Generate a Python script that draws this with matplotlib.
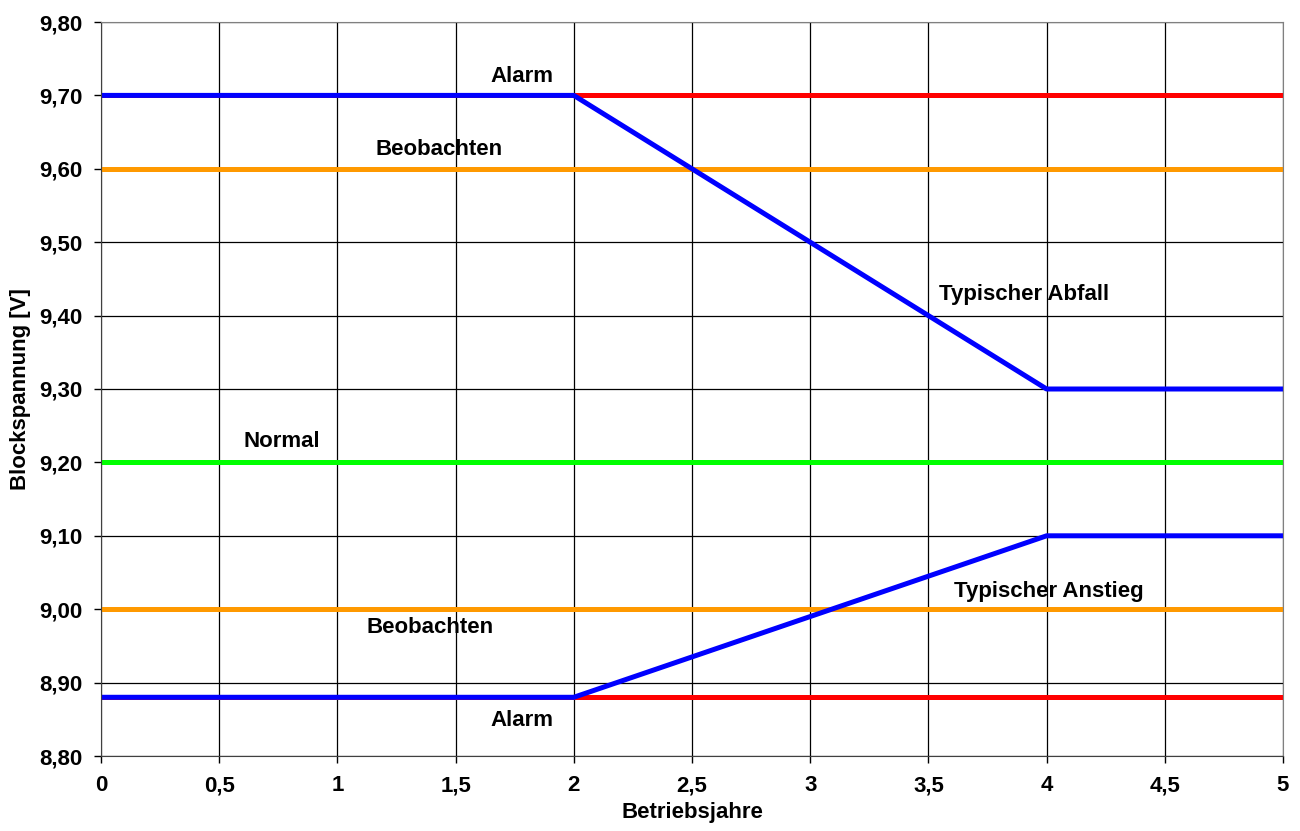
import matplotlib.pyplot as plt
from matplotlib.ticker import FuncFormatter

plt.rcParams['font.family'] = ['Liberation Sans', 'DejaVu Sans']
plt.rcParams['font.weight'] = 'bold'

# threshold lines (x range 0..5)
x_lim = [0, 5]
alarm_oben = 9.70
beob_oben = 9.60
normal = 9.20
beob_unten = 9.00
alarm_unten = 8.88

# typical curves
jahre = [0, 2, 4, 5]
abfall = [9.70, 9.70, 9.30, 9.30]
anstieg = [8.88, 8.88, 9.10, 9.10]

# label text, x centre, baseline y
labels = [
    ('Alarm', 1.781, 9.718),
    ('Beobachten', 1.428, 9.619),
    ('Normal', 0.764, 9.221),
    ('Typischer Abfall', 3.904, 9.421),
    ('Typischer Anstieg', 4.008, 9.017),
    ('Beobachten', 1.394, 8.968),
    ('Alarm', 1.780, 8.841),
]

fs = 16

fig = plt.figure(figsize=(13, 8.31), dpi=100)
ax = fig.add_axes([101 / 1300, 1 - 756 / 831, 1182 / 1300, 734 / 831])

lw = 3.6
ax.plot(x_lim, [alarm_oben] * 2, color='#ff0000', lw=lw, solid_capstyle='butt')
ax.plot(x_lim, [alarm_unten] * 2, color='#ff0000', lw=lw, solid_capstyle='butt')
ax.plot(x_lim, [beob_oben] * 2, color='#ff9900', lw=lw, solid_capstyle='butt')
ax.plot(x_lim, [beob_unten] * 2, color='#ff9900', lw=lw, solid_capstyle='butt')
ax.plot(x_lim, [normal] * 2, color='#00ff00', lw=lw, solid_capstyle='butt')
ax.plot(jahre, abfall, color='#0000ff', lw=lw, solid_capstyle='butt')
ax.plot(jahre, anstieg, color='#0000ff', lw=lw, solid_capstyle='butt')

for txt, x, y in labels:
    ax.text(x, y, txt, ha='center', va='baseline', fontsize=fs, fontweight='bold')

ax.set_xlim(0, 5)
ax.set_ylim(8.80, 9.80)
ax.set_xticks([i * 0.5 for i in range(11)])
ax.set_yticks([8.8 + i * 0.1 for i in range(11)])
ax.xaxis.set_major_formatter(FuncFormatter(lambda v, p: ('%g' % round(v, 1)).replace('.', ',')))
ax.yaxis.set_major_formatter(FuncFormatter(lambda v, p: ('%.2f' % v).replace('.', ',')))
ax.grid(True, color='black', lw=0.9)
ax.set_axisbelow(True)
ax.tick_params(axis='x', direction='out', length=5, width=1, labelsize=fs, pad=9)
ax.tick_params(axis='y', direction='out', length=5, width=1, labelsize=fs, pad=8)
for lab in ax.get_xticklabels() + ax.get_yticklabels():
    lab.set_fontweight('bold')
for s in ['top', 'right']:
    ax.spines[s].set_color('#808080')
for s in ['left', 'bottom']:
    ax.spines[s].set_color('#404040')

ax.set_xlabel('Betriebsjahre', fontsize=fs, fontweight='bold', labelpad=4)
ax.set_ylabel('Blockspannung [V]', fontsize=fs, fontweight='bold', labelpad=6)

fig.savefig('out.png', dpi=100)
